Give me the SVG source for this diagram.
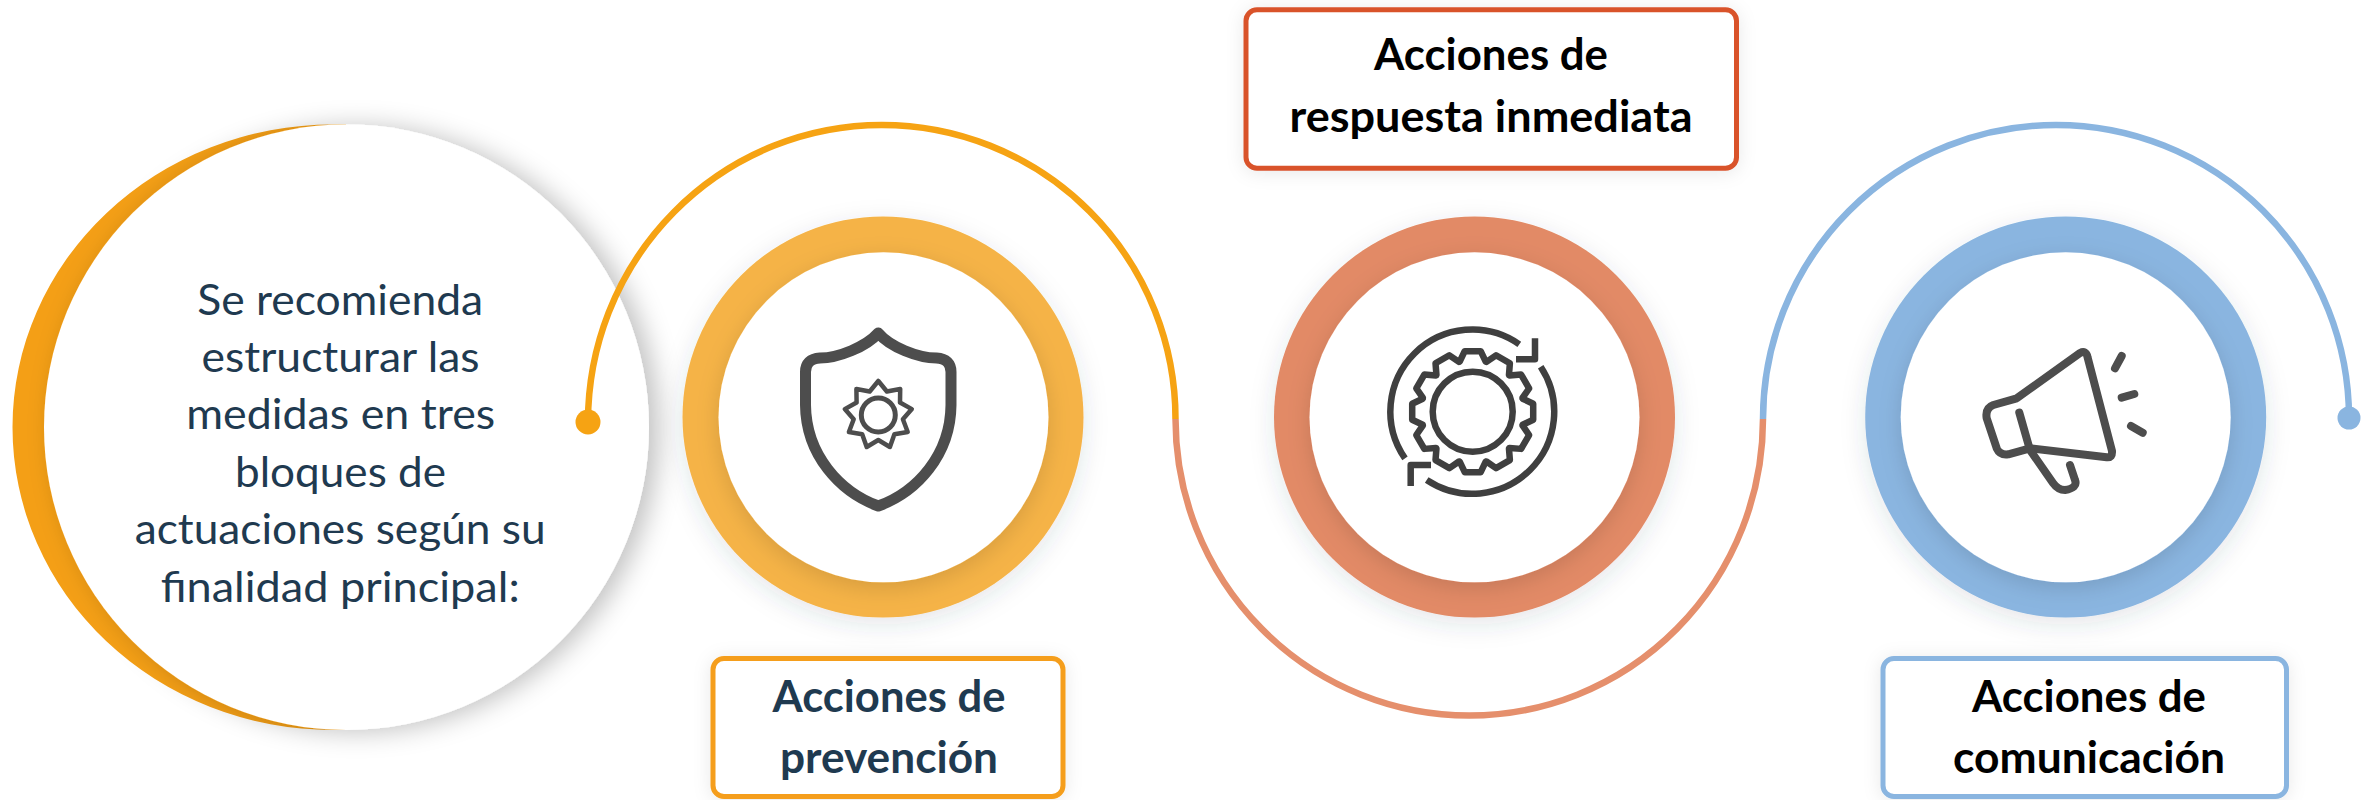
<svg xmlns="http://www.w3.org/2000/svg" width="2372" height="800" viewBox="0 0 2372 800">
<defs>
<filter id="bigShadow" x="-20%" y="-20%" width="140%" height="140%"><feDropShadow dx="10" dy="2" stdDeviation="13" flood-color="#000" flood-opacity="0.24"/></filter>
<filter id="innerShadow" x="-20%" y="-20%" width="140%" height="140%"><feDropShadow dx="0" dy="6" stdDeviation="11" flood-color="#000" flood-opacity="0.13"/></filter>
<filter id="ringShadow" x="-20%" y="-20%" width="140%" height="140%"><feDropShadow dx="0" dy="7" stdDeviation="12" flood-color="#2a3f55" flood-opacity="0.13"/></filter>
<filter id="boxShadow" x="-10%" y="-20%" width="120%" height="140%"><feDropShadow dx="0" dy="2" stdDeviation="9" flood-color="#000" flood-opacity="0.09"/></filter>
<g id="tooth"><path d="M-13.7 -49.8L-13 -50L-8 -60.5L8 -60.5L13 -50L13.7 -49.8"/></g>
</defs>
<style>
.t{font-family:"Lato","Liberation Sans",sans-serif;text-anchor:middle}
.body{font-size:43px;fill:#1f3a50}
.head{font-size:43px;font-weight:700}
.navy{fill:#1f3a50}.blk{fill:#000}
.box{fill:#fff;stroke-width:5;filter:url(#boxShadow)}
.ring{filter:url(#ringShadow)}
.inner{fill:#fff;filter:url(#innerShadow)}
.link{fill:none;stroke-width:6.500}
.ico{fill:none;stroke:#4d4d4d;stroke-linecap:round;stroke-linejoin:round}
.ico2{fill:none;stroke:#3f3f3f;stroke-linejoin:round}
</style>
<g id="intro">
<path d="M333 124.500A320.500 302.750 0 0 0 12.500 427.250A320.500 302.750 0 0 0 333 730L346 730L346 124.500Z" fill="#f49f16"/>
<ellipse cx="346.500" cy="427.200" rx="302.500" ry="302.800" fill="#fff" filter="url(#bigShadow)"/>
<text class="t body" x="340.200" y="314.600" textLength="286" lengthAdjust="spacingAndGlyphs">Se recomienda</text>
<text class="t body" x="340.500" y="371.800" textLength="278" lengthAdjust="spacingAndGlyphs">estructurar las</text>
<text class="t body" x="340.700" y="429.400" textLength="309" lengthAdjust="spacingAndGlyphs">medidas en tres</text>
<text class="t body" x="340.500" y="486.600" textLength="211" lengthAdjust="spacingAndGlyphs">bloques de</text>
<text class="t body" x="340.200" y="544" textLength="411" lengthAdjust="spacingAndGlyphs">actuaciones según su</text>
<text class="t body" x="340.200" y="601.500" textLength="359" lengthAdjust="spacingAndGlyphs">finalidad principal:</text>
</g>
<g id="connectors">
<path class="link" stroke="#f6a313" d="M588 422A293.750 297 0 0 1 881.750 125A293.750 294 0 0 1 1175.500 419"/>
<path class="link" stroke="#e58f6c" d="M1175.500 419A293.750 296.500 0 0 0 1469.250 715.500A293.750 296.500 0 0 0 1763 419"/>
<path class="link" stroke="#8ab5e0" d="M1763 419A293 294 0 0 1 2056 125A293 293 0 0 1 2349 418"/>
<circle cx="588" cy="422" r="12.500" fill="#f6a313"/>
<circle cx="2349" cy="418" r="11.500" fill="#8ab5e0"/>
</g>
<g id="node-prevencion">
<circle class="ring" cx="883" cy="417" r="200.500" fill="#f5b347"/>
<circle class="inner" cx="883.500" cy="417.300" r="165"/>
<path class="ico" stroke-width="11" d="M878.300 333C866 347 838 358 820 358Q805.500 359 805.500 372L805.500 405C806 455 840 492 878.300 506C917 492 950.500 455 951 405L951 372Q951 359 936.500 358C918 358 890 347 878.300 333Z"/>
<path class="ico" stroke-width="4.500" transform="translate(878.300 415)" d="M0 -34L8.600 -23.500L21.900 -26L21.700 -12.500L33.500 -5.900L24.600 4.300L29.400 17L16.100 19.200L11.600 32L0 25L-11.600 32L-16.100 19.200L-29.400 17L-24.600 4.300L-33.500 -5.900L-21.700 -12.500L-21.900 -26L-8.600 -23.500Z"/>
<circle class="ico" stroke-width="5" cx="878.300" cy="415" r="17"/>
<rect class="box" stroke="#f59e1b" x="713" y="658.500" width="350" height="138" rx="11"/>
<text class="t head navy" x="889" y="711.500" textLength="233" lengthAdjust="spacingAndGlyphs">Acciones de</text>
<text class="t head navy" x="889" y="773" textLength="218" lengthAdjust="spacingAndGlyphs">prevención</text>
</g>
<g id="node-respuesta">
<circle class="ring" cx="1474.500" cy="417" r="200.500" fill="#e28a66"/>
<circle class="inner" cx="1474.500" cy="417.300" r="165"/>
<g class="ico2" stroke-width="6.500" transform="translate(1472.700 411.700)">
<use href="#tooth"/><use href="#tooth" transform="rotate(30)"/><use href="#tooth" transform="rotate(60)"/><use href="#tooth" transform="rotate(90)"/><use href="#tooth" transform="rotate(120)"/><use href="#tooth" transform="rotate(150)"/><use href="#tooth" transform="rotate(180)"/><use href="#tooth" transform="rotate(210)"/><use href="#tooth" transform="rotate(240)"/><use href="#tooth" transform="rotate(270)"/><use href="#tooth" transform="rotate(300)"/><use href="#tooth" transform="rotate(330)"/>
<circle r="40"/>
<path d="M-67.700 46.600A82 82 0 0 1 46.600 -67.400"/>
<path d="M68 -45A82 82 0 0 1 -46 68.300"/>
<path d="M43.300 -52.400L62.300 -52.400L62.300 -73.400"/>
<path d="M-41.700 53.300L-62 53.300L-62 74.300"/>
</g>
<rect class="box" stroke="#d9532b" x="1246" y="9.800" width="490.500" height="158.500" rx="11"/>
<text class="t head blk" x="1491" y="69.500" textLength="234" lengthAdjust="spacingAndGlyphs">Acciones de</text>
<text class="t head blk" x="1491" y="131.700" textLength="403" lengthAdjust="spacingAndGlyphs">respuesta inmediata</text>
</g>
<g id="node-comunicacion">
<circle class="ring" cx="2065.700" cy="417" r="200.500" fill="#8ab5e0"/>
<circle class="inner" cx="2065.700" cy="417.300" r="165"/>
<g class="ico" stroke-width="8">
<path d="M2016.700 398.300L2080 353Q2086 350 2087.500 357L2112 451Q2112.500 458 2106.700 457.300L2030 448.300L2008.300 454.300Q2000 455.500 1996.700 448.300L1986.700 418.300Q1985 408 1993.300 405Z"/>
<path d="M2019.300 412.700L2030 450L2053 483Q2058 490 2065 490Q2078 488 2075 480L2070 465"/>
<path d="M2115 368.300L2121.700 356M2121.700 397.700L2134.300 394M2131 426L2142.700 432.700"/>
</g>
<rect class="box" stroke="#8ab5e0" x="1883" y="658.500" width="403.500" height="138" rx="11"/>
<text class="t head blk" x="2089" y="711.500" textLength="234" lengthAdjust="spacingAndGlyphs">Acciones de</text>
<text class="t head blk" x="2089" y="773" textLength="272" lengthAdjust="spacingAndGlyphs">comunicación</text>
</g>
</svg>
